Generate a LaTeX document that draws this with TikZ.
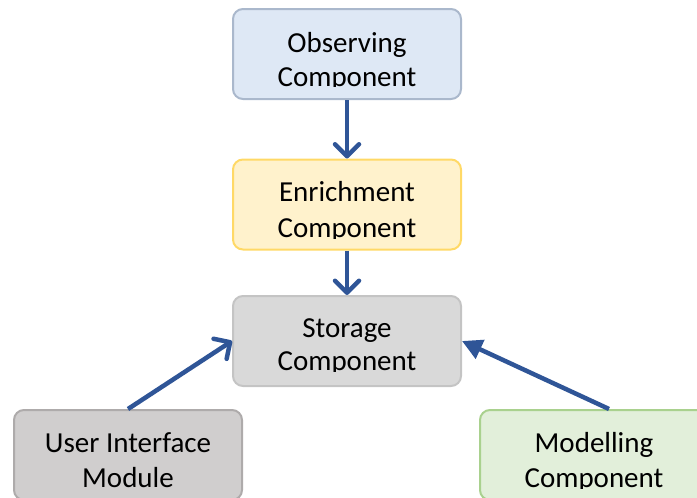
\documentclass[tikz,border=0pt]{standalone}
\usepackage{fontspec}
\setmainfont{Carlito}
\usetikzlibrary{arrows.meta}

\definecolor{obsfill}{HTML}{DEE8F5}
\definecolor{obsline}{HTML}{AAB8CC}
\definecolor{enrfill}{HTML}{FFF2CC}
\definecolor{enrline}{HTML}{FFD966}
\definecolor{stofill}{HTML}{D9D9D9}
\definecolor{stoline}{HTML}{C4C4C4}
\definecolor{uifill}{HTML}{D0CECE}
\definecolor{uiline}{HTML}{AEABAB}
\definecolor{modfill}{HTML}{E2EFDA}
\definecolor{modline}{HTML}{A9D18E}
\definecolor{flow}{HTML}{2F5597}

\tikzset{
  compbox/.style={draw, line width=2pt, rounded corners=10pt, inner sep=0pt,
    minimum width=228pt, minimum height=90pt},
  label/.style={anchor=base, inner sep=0pt, font=\fontsize{29}{35}\selectfont},
  barb/.style={draw=flow, line width=4.5pt,
    -{Straight Barb[length=12pt, width=24pt, line width=4.5pt, round]}},
  solidhead/.style={draw=flow, line width=4.5pt,
    -{Triangle[length=20pt, width=20pt]}},
}

\begin{document}
\begin{tikzpicture}[x=1pt, y=-1pt]
\useasboundingbox (0,0) rectangle (697,498);

% component boxes
\node[compbox, fill=obsfill, draw=obsline] (obs) at (347,54) {};
\node[compbox, fill=enrfill, draw=enrline] (enr) at (347,204.5) {};
\node[compbox, fill=stofill, draw=stoline] (sto) at (347,341) {};
\node[compbox, fill=uifill,  draw=uiline]  (ui)  at (128,455) {};
\node[compbox, fill=modfill, draw=modline] (mod) at (594,455) {};

% labels, cut off at the bottom of each text frame
\begin{scope}
  \clip (233,9) rectangle (461,86);
  \node[label] (obs1) at (347,52) {Observing};
  \node[label] (obs2) at (347,86) {Component};
\end{scope}
\begin{scope}
  \clip (233,159) rectangle (461,238);
  \node[label] (enr1) at (347,201) {Enrichment};
  \node[label] (enr2) at (347,237) {Component};
\end{scope}
\begin{scope}
  \clip (233,296) rectangle (461,371);
  \node[label] (sto1) at (347,337) {Storage};
  \node[label] (sto2) at (347,370) {Component};
\end{scope}
\begin{scope}
  \clip (14,410) rectangle (242,489);
  \node[label] (ui1) at (128,452) {User Interface};
  \node[label] (ui2) at (128,487) {Module};
\end{scope}
\begin{scope}
  \clip (480,410) rectangle (708,488);
  \node[label] (mod1) at (594,452) {Modelling};
  \node[label] (mod2) at (594,487) {Component};
\end{scope}

% data flow
\draw[barb] (obs.south) -- (enr.north);
\draw[barb] (enr.south) -- (sto.north);
\draw[barb] (ui.north) -- (sto.west);
\draw[solidhead] (mod.north -| 609,0) -- (sto.east);
\end{tikzpicture}
\end{document}
